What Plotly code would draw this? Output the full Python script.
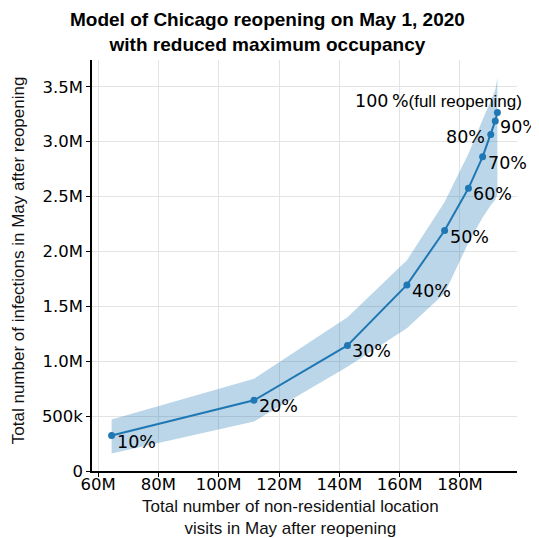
import plotly.graph_objects as go

# ---- data ----
pct_labels = ["10%", "20%", "30%", "40%", "50%", "60%", "70%", "80%", "90%"]
full_label = "100\u2009%"
full_note = "(full reopening)"
visits_m = [64.5, 111.7, 142.7, 162.4, 174.9, 182.8, 187.5, 190.2, 191.7, 192.4]
infections_m = [0.323, 0.644, 1.144, 1.695, 2.19, 2.575, 2.862, 3.065, 3.189, 3.265]
infections_upper_m = [0.47, 0.84, 1.40, 1.92, 2.45, 2.89, 3.20, 3.38, 3.47, 3.58]
infections_lower_m = [0.16, 0.45, 0.95, 1.30, 1.62, 2.08, 2.31, 2.42, 2.47, 2.52]

x_tickvals_m = [60, 80, 100, 120, 140, 160, 180]
x_ticktext = ["60M", "80M", "100M", "120M", "140M", "160M", "180M"]
y_tickvals_m = [0, 0.5, 1.0, 1.5, 2.0, 2.5, 3.0, 3.5]
y_ticktext = ["0", "500k", "1.0M", "1.5M", "2.0M", "2.5M", "3.0M", "3.5M"]

title_text = "Model of Chicago reopening on May 1, 2020<br>with reduced maximum occupancy"
x_title = "Total number of non-residential location<br>visits in May after reopening"
y_title = "Total number of infections in May after reopening"

M = 1e6
xs = [v * M for v in visits_m]
ys = [v * M for v in infections_m]
up = [v * M for v in infections_upper_m]
lo = [v * M for v in infections_lower_m]

BLUE = "#1f77b4"
TICK_FONT = dict(family="DejaVu Sans", size=16.5, color="black")
LABEL_FONT = dict(family="DejaVu Sans", size=17.5, color="black")

fig = go.Figure()

# uncertainty band
fig.add_trace(go.Scatter(
    x=xs + xs[::-1], y=up + lo[::-1],
    fill="toself", fillcolor="rgba(31,119,180,0.30)",
    line=dict(width=0), mode="lines", hoverinfo="skip", showlegend=False,
))

# mean line
fig.add_trace(go.Scatter(
    x=xs, y=ys, mode="lines+markers",
    line=dict(color=BLUE, width=2),
    marker=dict(color=BLUE, size=7),
    showlegend=False,
))

annotations = []
for i, lab in enumerate(pct_labels):
    if lab == "80%":
        annotations.append(dict(x=xs[i], y=ys[i], text=lab, showarrow=False,
                                xanchor="right", yanchor="middle",
                                xshift=-4, yshift=-2, font=LABEL_FONT))
    else:
        annotations.append(dict(x=xs[i], y=ys[i], text=lab, showarrow=False,
                                xanchor="left", yanchor="middle",
                                xshift=3, yshift=-6, font=LABEL_FONT))

annotations.append(dict(
    x=xs[-1], y=ys[-1], showarrow=False, xanchor="right", yanchor="middle",
    xshift=27, yshift=12, font=LABEL_FONT,
    text=full_label + "<span style='font-family:Liberation Sans;font-size:17px'>" + full_note + "</span>",
))

# title
annotations.append(dict(
    xref="paper", yref="paper", x=0.414, y=1.068, text=title_text,
    showarrow=False, xanchor="center", yanchor="middle",
    font=dict(family="Liberation Sans", size=19, color="black", weight="bold"),
))
# axis titles
annotations.append(dict(
    xref="paper", yref="paper", x=-0.174, y=0.513, text=y_title,
    textangle=-90, showarrow=False, xanchor="center", yanchor="middle",
    font=dict(family="Liberation Sans", size=17, color="#111"),
))
annotations.append(dict(
    xref="paper", yref="paper", x=0.466, y=-0.114, text=x_title,
    showarrow=False, xanchor="center", yanchor="middle",
    font=dict(family="Liberation Sans", size=17, color="#111"),
))

# page body has an 8px margin, so the figure is 8px smaller than the window
fig.update_layout(
    width=531, height=530,
    margin=dict(l=84, r=22, t=52, b=67),
    paper_bgcolor="white", plot_bgcolor="white",
    annotations=annotations,
)

fig.update_xaxes(
    range=[58.0 * M, 198.9 * M],
    tickvals=[v * M for v in x_tickvals_m], ticktext=x_ticktext,
    showline=True, linecolor="black", linewidth=1.5,
    ticks="outside", ticklen=4, tickcolor="black", tickwidth=1,
    ticklabelstandoff=-7,
    showgrid=True, gridcolor="#e3e3e3", gridwidth=1, zeroline=False,
    tickfont=TICK_FONT,
)
fig.update_yaxes(
    range=[0, 3.744 * M],
    tickvals=[v * M for v in y_tickvals_m], ticktext=y_ticktext,
    showline=True, linecolor="black", linewidth=1.5,
    ticks="outside", ticklen=4, tickcolor="black", tickwidth=1,
    showgrid=True, gridcolor="#e3e3e3", gridwidth=1, zeroline=False,
    tickfont=TICK_FONT,
)

fig.write_html("out.html")
